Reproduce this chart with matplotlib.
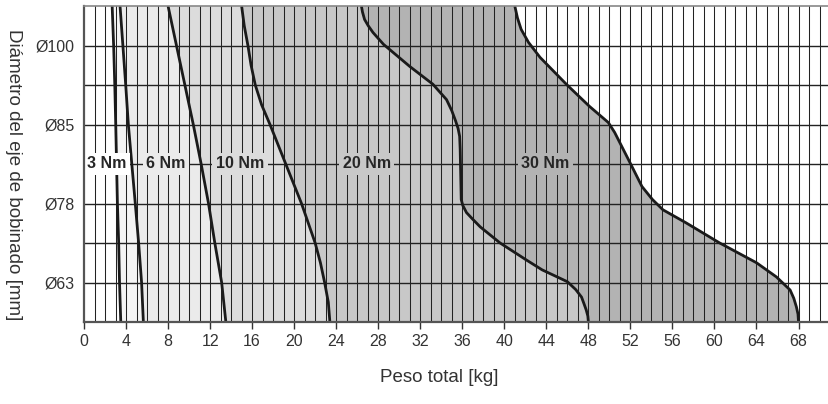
import matplotlib.pyplot as plt

plt.rcParams['font.family'] = ['Liberation Sans', 'DejaVu Sans']

# Curve data: weight [kg] read at positions on the diameter axis (0 = bottom, 8 = top)
c3_y = [0, 1, 2, 3, 4, 5, 6, 7, 8]
c3_x = [3.5, 3.38, 3.3, 3.18, 3.1, 3.02, 2.93, 2.82, 2.68]

c6_y = [0, 1, 2, 3, 4, 5, 6, 7, 8]
c6_x = [5.65, 5.48, 5.2, 4.88, 4.55, 4.22, 3.97, 3.7, 3.43]

c10_y = [0, 1, 2, 3, 4, 5, 6, 7, 8]
c10_x = [13.5, 13.1, 12.45, 11.85, 11.15, 10.4, 9.6, 8.8, 8.0]

c20_y = [0, 0.5, 1, 1.5, 2, 3, 4, 5, 5.5, 6, 6.5, 7, 7.5, 8]
c20_x = [23.4, 23.25, 22.9, 22.5, 22.0, 20.7, 19.2, 17.7, 16.9, 16.3, 15.9, 15.6, 15.25, 15.0]

c30_y = [0, 0.15, 0.3, 0.45, 0.63, 0.82, 1.02, 1.32, 1.57, 2.0, 2.41, 2.6, 2.77, 2.95,
         3.1, 4.37, 4.7, 4.9, 5.1, 5.35, 5.63, 6.02, 6.47, 7.03, 7.33, 7.5, 7.66, 7.85, 8.0]
c30_x = [48.0, 47.95, 47.8, 47.6, 47.35, 46.8, 46.0, 43.6, 42.1, 39.6, 37.7, 37.0, 36.4, 36.05,
         35.9, 35.8, 35.75, 35.6, 35.35, 35.0, 34.5, 33.2, 31.0, 28.5, 27.5, 27.05, 26.7, 26.5, 26.4]

c_end_y = [0, 0.2, 0.38, 0.6, 0.81, 1.14, 1.5, 2.0, 2.51, 2.84, 3.1, 3.43, 4.04, 4.8,
           5.05, 5.46, 6.02, 6.7, 7.08, 7.41, 7.7, 8.0]
c_end_x = [68.0, 67.95, 67.8, 67.55, 67.2, 65.9, 64.0, 60.5, 57.3, 55.1, 54.1, 53.1, 51.95, 50.5,
           49.9, 48.1, 45.9, 43.4, 42.3, 41.6, 41.25, 41.0]

curves = [(c3_x, c3_y), (c6_x, c6_y), (c10_x, c10_y), (c20_x, c20_y),
          (c30_x, c30_y), (c_end_x, c_end_y)]
fills = ['#f4f4f4', '#ebebeb', '#dcdcdc', '#c8c8c8', '#b3b3b3']

labels = ['3 Nm', '6 Nm', '10 Nm', '20 Nm', '30 Nm']
label_x = [2.2, 7.8, 14.85, 26.9, 43.9]
label_bg = ['#ffffff', '#ebebeb', '#dcdcdc', '#c8c8c8', '#b3b3b3']

y_ticks = [1, 3, 5, 7]
y_ticklabels = ['Ø63', 'Ø78', 'Ø85', 'Ø100']
x_ticks = list(range(0, 69, 4))

fig = plt.figure(figsize=(8.29, 4.04), dpi=100)
ax = fig.add_axes([84 / 829, 1 - 322 / 404, 1 - 84 / 829, 316 / 404])

# Shaded bands between neighbouring curves
for i, color in enumerate(fills):
    lx, ly = curves[i]
    rx, ry = curves[i + 1]
    ax.fill(list(lx) + list(rx)[::-1], list(ly) + list(ry)[::-1],
            color=color, lw=0, zorder=1)

# Grid
for x in range(1, 71):
    ax.axvline(x, color='#222222', lw=0.75, zorder=2)
for y in range(1, 8):
    ax.axhline(y, color='#222222', lw=1.0, zorder=2)

for cx, cy in curves:
    ax.plot(cx, cy, color='#1a1a1a', lw=2.0, zorder=3, solid_capstyle='butt',
            solid_joinstyle='round')

for text, x, bg in zip(labels, label_x, label_bg):
    ax.text(x, 4, text, ha='center', va='center', fontsize=11.5, fontweight='bold',
            color='#262626', zorder=4,
            bbox=dict(boxstyle='square,pad=0.22', fc=bg, ec='none'))

ax.set_xlim(0, 70.9)
ax.set_ylim(0, 8)
ax.set_xticks(x_ticks)
ax.set_yticks(y_ticks)
ax.set_yticklabels(y_ticklabels)
ax.tick_params(axis='x', length=5, width=1, color='#333333', labelsize=11.5,
               labelcolor='#333333', pad=4)
ax.tick_params(axis='y', length=0, labelsize=11.5, labelcolor='#333333', pad=7)

ax.spines['right'].set_visible(False)
ax.spines['top'].set_color('#888888')
ax.spines['top'].set_linewidth(1.2)
for side in ['left', 'bottom']:
    ax.spines[side].set_color('#555555')
    ax.spines[side].set_linewidth(1.6)
for sp in ax.spines.values():
    sp.set_zorder(5)

fig.text(439 / 829, 1 - 378 / 404, 'Peso total [kg]', ha='center', va='center',
         fontsize=13.5, color='#333333')
fig.text(13 / 829, 1 - 175 / 404, 'Diámetro del eje de bobinado [mm]', rotation=-90,
         ha='center', va='center', fontsize=13.5, color='#333333')

fig.savefig('out.png', dpi=100)
